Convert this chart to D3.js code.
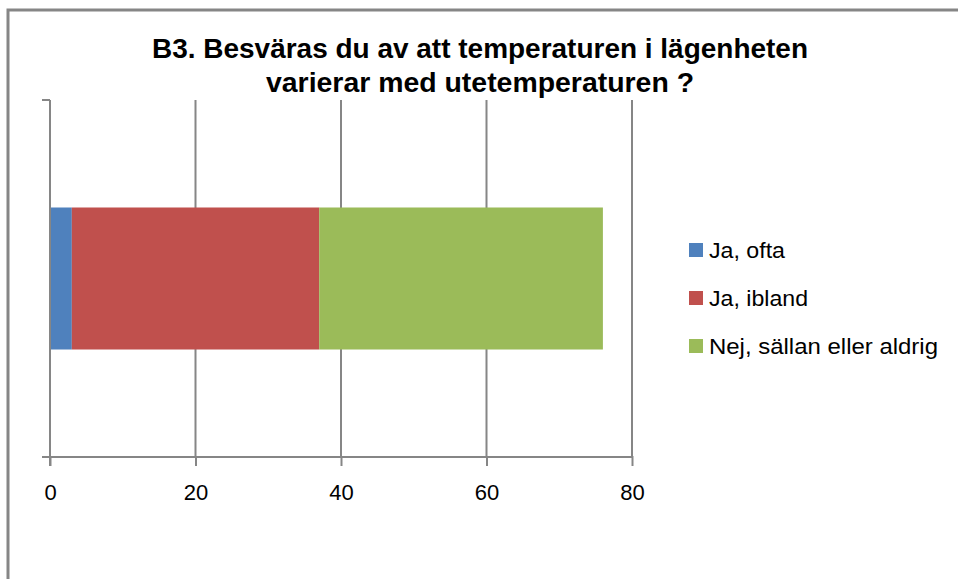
<!DOCTYPE html>
<html>
<head>
<meta charset="utf-8">
<script src="https://cdn.jsdelivr.net/npm/d3@7"></script>
<style>
    body { margin: 0; background: #fff; }
    svg { display: block; }
</style>
</head>
<body>
<div id="container"></div>
<script>
// Chart data
const titleLines = ["B3. Besväras du av att temperaturen i lägenheten", "varierar med utetemperaturen ?"];
const categories = ["B3"];
const seriesNames = ["Ja, ofta", "Ja, ibland", "Nej, sällan eller aldrig"];
const seriesValues = [3, 34, 39];
const xTicks = [0, 20, 40, 60, 80];
const colors = ["#4F81BD", "#C0504D", "#9BBB59"];

const width = 958;
const height = 579;
const gridColor = "#868686";
const font = "'Liberation Sans', Arial, sans-serif";

const svg = d3.select("#container").append("svg")
    .attr("width", width)
    .attr("height", height);

// Outer chart border (runs off the right and bottom edges)
svg.append("rect")
    .attr("x", 8).attr("y", 10)
    .attr("width", width + 20).attr("height", height + 20)
    .attr("fill", "white")
    .attr("stroke", gridColor)
    .attr("stroke-width", 3);

// Title
svg.append("g")
    .selectAll("text")
    .data(titleLines)
    .join("text")
    .attr("x", 480)
    .attr("y", (d, i) => 58 + i * 34)
    .attr("text-anchor", "middle")
    .attr("font-family", font)
    .attr("font-weight", "bold")
    .attr("font-size", 27)
    .attr("textLength", (d, i) => i === 0 ? 656 : 428)
    .attr("lengthAdjust", "spacingAndGlyphs")
    .attr("fill", "#000")
    .text(d => d);

// Scales
const plotLeft = 50, plotRight = 632, plotTop = 100, plotBottom = 457;
const x = d3.scaleLinear().domain([0, 80]).range([plotLeft, plotRight]);
const y = d3.scaleBand().domain(categories).range([plotTop, plotBottom]).paddingOuter(0.757).paddingInner(0);

// Vertical gridlines
svg.append("g")
    .selectAll("line")
    .data(xTicks.slice(1))
    .join("line")
    .attr("x1", d => x(d)).attr("x2", d => x(d))
    .attr("y1", plotTop).attr("y2", plotBottom)
    .attr("stroke", gridColor)
    .attr("stroke-width", 2);

// Stacked bars
const stacked = [];
let acc = 0;
seriesValues.forEach((v, i) => {
    stacked.push({ name: seriesNames[i], x0: acc, x1: acc + v, color: colors[i] });
    acc += v;
});
svg.append("g")
    .selectAll("rect")
    .data(stacked)
    .join("rect")
    .attr("x", d => x(d.x0))
    .attr("width", d => x(d.x1) - x(d.x0))
    .attr("y", y(categories[0]))
    .attr("height", y.bandwidth())
    .attr("fill", d => d.color);

// X axis
const xAxis = svg.append("g")
    .attr("transform", `translate(0,${plotBottom})`)
    .call(d3.axisBottom(x).tickValues(xTicks).tickSize(9).tickPadding(18).tickSizeOuter(0));
xAxis.select(".domain").remove();
xAxis.selectAll("line").attr("stroke", gridColor).attr("stroke-width", 2).attr("y1", -1);
xAxis.selectAll("text")
    .attr("font-family", font)
    .attr("font-size", 22)
    .attr("fill", "#000");
svg.append("line")
    .attr("x1", plotLeft - 8).attr("x2", plotRight)
    .attr("y1", plotBottom).attr("y2", plotBottom)
    .attr("stroke", gridColor).attr("stroke-width", 2);

// Y axis
svg.append("line")
    .attr("x1", plotLeft).attr("x2", plotLeft)
    .attr("y1", plotTop).attr("y2", plotBottom + 9)
    .attr("stroke", gridColor).attr("stroke-width", 2);
svg.append("line")
    .attr("x1", plotLeft - 8).attr("x2", plotLeft)
    .attr("y1", plotTop).attr("y2", plotTop)
    .attr("stroke", gridColor).attr("stroke-width", 2);

// Legend
const legend = svg.append("g")
    .selectAll("g")
    .data(seriesNames)
    .join("g")
    .attr("transform", (d, i) => `translate(689,${243 + i * 48})`);
legend.append("rect")
    .attr("width", 14).attr("height", 14)
    .attr("fill", (d, i) => colors[i]);
legend.append("text")
    .attr("x", 20).attr("y", 15)
    .attr("font-family", font)
    .attr("font-size", 22)
    .attr("fill", "#000")
    .attr("textLength", (d, i) => [76, 99, 229][i])
    .attr("lengthAdjust", "spacingAndGlyphs")
    .text(d => d);
</script>
</body>
</html>
